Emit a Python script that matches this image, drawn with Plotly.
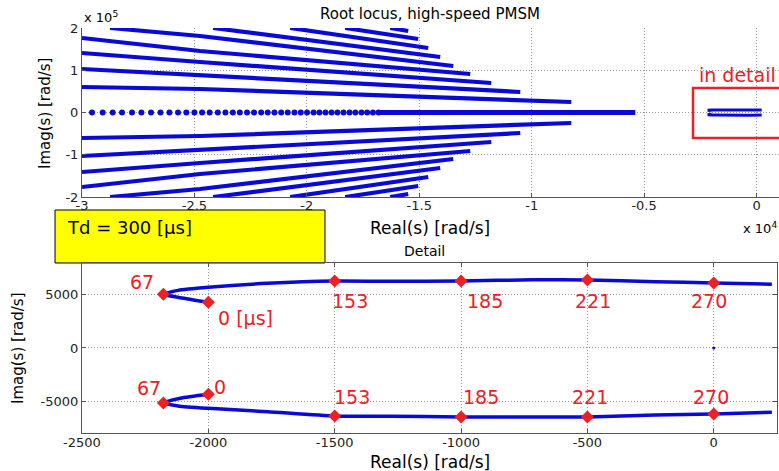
import plotly.graph_objects as go

# ---------------- data (rad/s) ----------------
# Top plot: upper-half branches of the root locus; lower half is the complex conjugate
branch_re = [
    [-30000, -24749, -8238],
    [-30000, -24749, -10507],
    [-30000, -24749, -11798],
    [-30000, -24749, -12732],
    [-28754, -24749, -13489],
    [-24170, -14068],
    [-20743, -14602],
    [-18296, -15047],
    [-16293, -15492],
]
branch_im = [
    [60355, 55621, 24852],
    [102959, 88757, 48521],
    [140828, 119527, 69822],
    [176331, 145562, 91124],
    [200000, 181065, 110059],
    [200000, 131361],
    [200000, 152663],
    [200000, 173964],
    [200000, 192899],
]
# real-axis roots (separate dots on the left, dense band on the right)
real_axis_dots = [-29555, -29080, -28635, -28220, -27775, -27360, -26930, -26510, -26110,
                  -25730, -25360, -25000, -24660, -24320, -23960, -23620, -23290, -22980,
                  -22660, -22350, -22030, -21740, -21440, -21140, -20850, -20550, -20270,
                  -19990, -19700, -19440, -19170, -18900, -18640, -18370, -18100, -17840,
                  -17570, -17320, -17060, -16810]
real_axis_band = [-16810, -5390]

# Detail: dominant pole pair vs. delay Td
det_up_re = [-2000, -2111, -2178, -2120, -2000, -1766, -1500, -1290, -1000, -710, -500, -230, 0, 230]
det_up_im = [4300, 4733, 5053, 5420, 5712, 6088, 6305, 6280, 6305, 6420, 6399, 6240, 6117, 5994]
det_lo_re = [-2000, -2111, -2178, -2120, -2000, -1766, -1500, -1290, -1000, -710, -500, -230, 0, 230]
det_lo_im = [-4357, -4733, -5176, -5450, -5674, -5994, -6399, -6420, -6493, -6493, -6493, -6300, -6211, -6050]

mark_up_re = [-2000, -2178, -1500, -1000, -500, 0]
mark_up_im = [4300, 5053, 6305, 6305, 6399, 6117]
mark_up_txt = ["0 [μs]", "67", "153", "185", "221", "270"]
mark_lo_re = [-2000, -2178, -1500, -1000, -500, 0]
mark_lo_im = [-4357, -5176, -6399, -6493, -6493, -6211]
mark_lo_txt = ["0", "67", "153", "185", "221", "270"]

origin_re = [0]
origin_im = [0]

top_xticks = [-30000, -25000, -20000, -15000, -10000, -5000, 0]
top_xtext = ["-3", "-2.5", "-2", "-1.5", "-1", "-0.5", "0"]
top_yticks = [-200000, -100000, 0, 100000, 200000]
top_ytext = ["-2", "-1", "0", "1", "2"]
bot_xticks = [-2500, -2000, -1500, -1000, -500, 0]
bot_xtext = ["-2500", "-2000", "-1500", "-1000", "-500", "0"]
bot_yticks = [-5000, 0, 5000]
bot_ytext = ["-5000", "0", "5000"]

# ---------------- styles ----------------
BLUE = "#0a0ad8"
RED = "#ee2024"
FONT = "DejaVu Sans"

fig = go.Figure()

# top plot branches (upper and conjugate lower)
for re, im in zip(branch_re, branch_im):
    for sgn in (1, -1):
        fig.add_trace(go.Scatter(x=re, y=[sgn * v for v in im], mode="lines",
                                 line=dict(color=BLUE, width=4.2),
                                 xaxis="x", yaxis="y", hoverinfo="skip"))
fig.add_trace(go.Scatter(x=real_axis_dots, y=[0] * len(real_axis_dots), mode="markers",
                         marker=dict(color=BLUE, size=6), xaxis="x", yaxis="y"))
fig.add_trace(go.Scatter(x=real_axis_band, y=[0, 0], mode="lines",
                         line=dict(color=BLUE, width=5), xaxis="x", yaxis="y"))
# detail locus also visible in top plot
for re, im in ((det_up_re, det_up_im), (det_lo_re, det_lo_im)):
    fig.add_trace(go.Scatter(x=re, y=im, mode="lines", line=dict(color=BLUE, width=3),
                             xaxis="x", yaxis="y"))

# bottom (detail) plot
for re, im in ((det_up_re, det_up_im), (det_lo_re, det_lo_im)):
    fig.add_trace(go.Scatter(x=re, y=im, mode="lines",
                             line=dict(color=BLUE, width=3.5, shape="spline", smoothing=0.6),
                             xaxis="x2", yaxis="y2"))
fig.add_trace(go.Scatter(x=mark_up_re + mark_lo_re, y=mark_up_im + mark_lo_im, mode="markers",
                         marker=dict(color=RED, size=10, symbol="diamond"),
                         xaxis="x2", yaxis="y2"))
fig.add_trace(go.Scatter(x=origin_re, y=origin_im, mode="markers",
                         marker=dict(color=BLUE, size=3), xaxis="x2", yaxis="y2"))

# label offsets (px) relative to markers
up_shift = [(37, -16), (-21, 12), (15, -20), (24, -20), (6, -21), (-5, -18)]
lo_shift = [(12, 7), (-14, 15), (17, 19), (20, 20), (3, 20), (-3, 17)]
ann = []
for xs, ys, ts, sh in ((mark_up_re, mark_up_im, mark_up_txt, up_shift),
                       (mark_lo_re, mark_lo_im, mark_lo_txt, lo_shift)):
    for x, y, t, (dx, dy) in zip(xs, ys, ts, sh):
        ann.append(dict(x=x, y=y, xref="x2", yref="y2", text=t, showarrow=False,
                        xshift=dx, yshift=dy, font=dict(family=FONT, size=19, color=RED)))


def pa(text, x, y, size, color="black", xanchor="center", angle=0):
    return dict(text=text, x=x, y=y, xref="paper", yref="paper", showarrow=False,
                xanchor=xanchor, yanchor="middle", textangle=angle,
                font=dict(family=FONT, size=size, color=color))


ann += [
    pa("Root locus, high-speed PMSM", 0.4993, 1.0346, 15),
    pa("x 10<sup>5</sup>", 0.0, 1.027, 13, xanchor="left"),
    pa("Real(s) [rad/s]", 0.4993, 0.5062, 17),
    pa("x 10<sup>4</sup>", 1.0, 0.5062, 13, xanchor="right"),
    pa("Detail", 0.4921, 0.4494, 14),
    pa("Real(s) [rad/s]", 0.4993, -0.0704, 17),
    pa("Imag(s) [rad/s]", -0.0531, 0.790, 15, angle=-90),
    pa("Imag(s) [rad/s]", -0.0918, 0.2099, 15, angle=-90),
    pa("in detail", 0.941, 0.884, 19, color=RED),
    pa("Td = 300 [μs]", -0.0244, 0.5062, 18, xanchor="left"),
]

shapes = [
    dict(type="rect", xref="x", yref="y", x0=-2825, x1=1500, y0=-60355, y1=57988,
         line=dict(color=RED, width=2.5), fillcolor="rgba(0,0,0,0)", layer="above"),
    dict(type="rect", xref="paper", yref="paper", x0=-0.0387, x1=0.3486, y0=0.4198, y1=0.5506,
         line=dict(color="black", width=1), fillcolor="#ffff00", layer="below"),
]

axcommon = dict(showgrid=True, gridcolor="#999999", griddash="1px,2px", gridwidth=1,
                zeroline=False, showline=True, linecolor="#555555", linewidth=1,
                ticks="inside", ticklen=4, tickcolor="#555555",
                tickfont=dict(family=FONT, size=13, color="#222222"))

fig.update_layout(
    width=779, height=471,
    margin=dict(l=82, r=0, t=28, b=38),
    paper_bgcolor="white", plot_bgcolor="rgba(0,0,0,0)",
    showlegend=False,
    xaxis=dict(domain=[0, 1], range=[-30000, 1000], anchor="y", ticklabelstandoff=-4,
               tickvals=top_xticks, ticktext=top_xtext, **axcommon),
    yaxis=dict(domain=[0.5827, 1], range=[-200000, 200000], anchor="x",
               tickvals=top_yticks, ticktext=top_ytext, **axcommon),
    xaxis2=dict(domain=[0, 0.997], range=[-2500, 250], anchor="y2", mirror="ticks",
                ticklabelstandoff=-3,
                tickvals=bot_xticks, ticktext=bot_xtext, **axcommon),
    yaxis2=dict(domain=[0, 0.4198], range=[-8000, 8000], anchor="x2", mirror="ticks",
                tickvals=bot_yticks, ticktext=bot_ytext, **axcommon),
    annotations=ann,
    shapes=shapes,
)

fig.write_html("out.html")
